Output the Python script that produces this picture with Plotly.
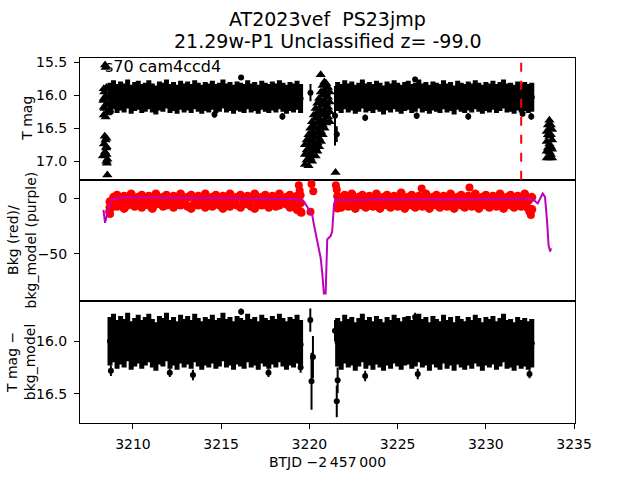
import plotly.graph_objects as go
from plotly.subplots import make_subplots

# ---------------- data ----------------
t_seg1 = [3208.7, 3208.9, 3209.1, 3209.3, 3209.5, 3209.7, 3209.9, 3210.1, 3210.3, 3210.5,
          3210.7, 3210.9, 3211.1, 3211.3, 3211.5, 3211.7, 3211.9, 3212.1, 3212.3, 3212.5,
          3212.7, 3212.9, 3213.1, 3213.3, 3213.5, 3213.7, 3213.9, 3214.1, 3214.3, 3214.5,
          3214.7, 3214.9, 3215.1, 3215.3, 3215.5, 3215.7, 3215.9, 3216.1, 3216.3, 3216.5,
          3216.7, 3216.9, 3217.1, 3217.3, 3217.5, 3217.7, 3217.9, 3218.1, 3218.3, 3218.5,
          3218.7, 3218.9, 3219.1, 3219.3, 3219.5]
t_seg2 = [3221.6, 3221.8, 3222.0, 3222.2, 3222.4, 3222.6, 3222.8, 3223.0, 3223.2, 3223.4,
          3223.6, 3223.8, 3224.0, 3224.2, 3224.4, 3224.6, 3224.8, 3225.0, 3225.2, 3225.4,
          3225.6, 3225.8, 3226.0, 3226.2, 3226.4, 3226.6, 3226.8, 3227.0, 3227.2, 3227.4,
          3227.6, 3227.8, 3228.0, 3228.2, 3228.4, 3228.6, 3228.8, 3229.0, 3229.2, 3229.4,
          3229.6, 3229.8, 3230.0, 3230.2, 3230.4, 3230.6, 3230.8, 3231.0, 3231.2, 3231.4,
          3231.6, 3231.8, 3232.0, 3232.2, 3232.4, 3232.6]

# T mag (top panel)
mag_seg1 = [16.03, 15.99, 16.05, 16.01, 16.04, 15.98, 16.06, 16.02, 16.00, 16.05,
            16.03, 15.99, 16.04, 16.07, 16.01, 16.03, 15.98, 16.05, 16.02, 16.06,
            16.00, 16.04, 16.01, 16.05, 15.99, 16.03, 16.06, 16.02, 16.04, 16.00,
            16.05, 16.03, 15.98, 16.04, 16.02, 16.06, 16.01, 16.03, 16.05, 15.99,
            16.04, 16.02, 16.06, 16.00, 16.03, 16.05, 16.01, 16.04, 15.99, 16.03,
            16.06, 16.02, 16.04, 16.00, 16.05]
mag_seg2 = [16.02, 16.05, 15.99, 16.04, 16.01, 16.06, 16.03, 15.98, 16.04, 16.02,
            16.05, 16.00, 16.03, 16.07, 16.01, 16.04, 15.99, 16.03, 16.06, 16.02,
            16.00, 16.05, 16.03, 15.98, 16.04, 16.02, 16.06, 16.01, 16.03, 16.05,
            15.99, 16.04, 16.02, 16.07, 16.00, 16.03, 16.05, 16.01, 16.04, 15.99,
            16.03, 16.06, 16.02, 16.04, 16.00, 16.05, 16.02, 15.98, 16.04, 16.03,
            16.06, 16.01, 16.04, 16.02, 16.05, 16.03]
mag_err = 0.22
mag_out_t = [3216.13, 3220.06, 3221.45, 3221.55, 3223.16, 3225.99, 3226.08, 3229.00,
             3232.08, 3232.57, 3214.62, 3218.47, 3208.75]
mag_out_v = [15.73, 15.96, 16.31, 16.59, 16.34, 15.76, 16.31, 16.32,
             16.28, 16.32, 16.29, 16.32, 16.25]
mag_out_e = [0.03, 0.13, 0.45, 0.12, 0.05, 0.04, 0.05, 0.05,
             0.04, 0.05, 0.05, 0.05, 0.05]

# upper limits (triangles)
ul_t = [3208.42, 3208.45, 3208.50, 3208.38, 3208.45, 3208.33, 3208.48, 3208.40, 3208.50, 3208.45,
        3208.40, 3208.45, 3208.36, 3208.48, 3208.42, 3208.30, 3208.55, 3208.52, 3208.55,
        3208.35, 3208.35, 3208.35, 3208.35, 3208.50, 3208.50, 3208.50, 3208.50,
        3219.75, 3219.75, 3219.75, 3219.95, 3219.95, 3219.95, 3219.95,
        3220.15, 3220.15, 3220.15, 3220.15, 3220.15,
        3220.35, 3220.35, 3220.35, 3220.35, 3220.35, 3220.35,
        3220.55, 3220.55, 3220.55, 3220.55, 3220.55, 3220.55,
        3220.75, 3220.75, 3220.75, 3220.75, 3220.75, 3220.75,
        3220.95, 3220.95, 3220.95, 3220.95, 3220.95,
        3221.15, 3221.15, 3221.15, 3221.15, 3220.64, 3221.48,
        3219.85, 3219.85, 3219.85, 3220.05, 3220.05, 3220.05, 3220.05,
        3220.25, 3220.25, 3220.25, 3220.25, 3220.25,
        3220.45, 3220.45, 3220.45, 3220.45, 3220.45, 3220.45,
        3220.65, 3220.65, 3220.65, 3220.65, 3220.65, 3220.65,
        3220.85, 3220.85, 3220.85, 3220.85, 3220.85, 3220.85,
        3221.05, 3221.05, 3221.05, 3221.05,
        3233.60, 3233.60, 3233.60, 3233.60, 3233.60, 3233.60,
        3233.45, 3233.45, 3233.45, 3233.45, 3233.75, 3233.75, 3233.75, 3233.75,
        3233.52, 3233.52, 3233.52, 3233.68, 3233.68, 3233.68, 3233.68]
ul_mag = [15.54, 15.58, 15.88, 15.95, 16.02, 16.08, 16.14, 16.20, 16.27, 16.33,
          16.62, 16.68, 16.74, 16.80, 16.86, 16.92, 16.97, 17.03, 17.21,
          15.90, 16.05, 16.18, 16.30, 16.65, 16.78, 16.90, 17.00,
          16.75, 16.90, 17.05, 16.60, 16.75, 16.90, 17.07,
          16.40, 16.55, 16.70, 16.85, 17.00,
          16.20, 16.35, 16.50, 16.65, 16.80, 16.92,
          16.05, 16.20, 16.35, 16.50, 16.65, 16.78,
          15.85, 16.00, 16.15, 16.30, 16.45, 16.60,
          15.82, 15.97, 16.12, 16.27, 16.42,
          15.95, 16.10, 16.25, 16.40, 15.69, 17.17,
          16.68, 16.83, 16.98, 16.50, 16.65, 16.80, 16.95,
          16.30, 16.45, 16.60, 16.75, 16.90,
          16.12, 16.27, 16.42, 16.57, 16.72, 16.85,
          15.95, 16.10, 16.25, 16.40, 16.55, 16.70,
          15.80, 15.92, 16.07, 16.22, 16.37, 16.50,
          15.88, 16.03, 16.18, 16.33,
          16.38, 16.50, 16.62, 16.74, 16.86, 16.95,
          16.55, 16.70, 16.85, 16.95, 16.52, 16.68, 16.82, 16.95,
          16.45, 16.60, 16.80, 16.45, 16.60, 16.78, 16.90]

disc_t = 3232.0

# background (middle panel): two samples per timestamp
bkgA_seg1 = [-3, 1, 3, -1, 2, 0, 4, -2, 1, 3,
             -1, 2, 0, 4, -2, 1, 3, -1, 2, 0,
             4, -2, 1, 3, -1, 2, 0, 4, -2, 1,
             3, -1, 2, 0, 4, -2, 1, 3, -1, 2,
             0, 4, -2, 1, 3, -1, 2, 0, 4, -2,
             1, 3, -1, 2, -4]
bkgB_seg1 = [-8, -5, -7, -4, -9, -6, -3, -7, -5, -8,
             -4, -6, -9, -5, -3, -7, -6, -4, -8, -5,
             -6, -3, -7, -9, -4, -6, -5, -8, -3, -7,
             -4, -6, -9, -5, -7, -3, -6, -8, -4, -5,
             -7, -9, -3, -6, -5, -8, -4, -7, -6, -3,
             -5, -8, -7, -10, -12]
bkgA_seg2 = [2, -1, 3, 0, 4, -2, 1, 3, -1, 2,
             0, 4, -2, 1, 3, -1, 2, 0, 5, -2,
             1, 3, -1, 2, 0, 4, -2, 1, 3, -1,
             2, 0, 4, -2, 1, 3, -1, 2, 0, 4,
             -2, 1, 3, -1, 2, 0, 4, -2, 1, 3,
             -1, 2, 0, 4, -2, 1]
bkgB_seg2 = [-6, -8, -4, -7, -5, -9, -3, -6, -8, -4,
             -7, -5, -9, -3, -6, -8, -4, -7, -5, -9,
             -3, -6, -8, -4, -7, -5, -9, -3, -6, -8,
             -4, -7, -5, -9, -3, -6, -8, -4, -7, -5,
             -9, -3, -6, -8, -4, -7, -5, -9, -3, -6,
             -8, -4, -7, -5, -9, -10]
bkg_out_t = [3208.65, 3208.70, 3208.75, 3219.40, 3219.45, 3219.50, 3219.55, 3220.12, 3220.22,
             3220.06, 3221.50, 3221.55, 3221.60, 3226.36, 3229.07, 3232.47, 3232.55]
bkg_out_v = [-12, -14, -9, 12, 7, 3, -13, 13, 6.5, -12, 12, 8, -9, 9, 10, -12, -15]

bm_t = [3208.33, 3208.42, 3208.61, 3208.80, 3208.95, 3209.5, 3210.5, 3211.5, 3212.5, 3213.5,
        3214.5, 3215.5, 3216.5, 3217.5, 3218.5, 3218.85, 3219.41, 3219.70, 3219.98, 3220.16,
        3220.26, 3220.45, 3220.54, 3220.64, 3220.73, 3220.82, 3220.92, 3221.01, 3221.20, 3221.29,
        3221.39, 3221.48, 3222.0, 3223.0, 3224.0, 3225.0, 3226.0, 3227.0, 3228.0, 3229.0,
        3230.0, 3231.0, 3231.81, 3232.66, 3232.94, 3233.22, 3233.35, 3233.47, 3233.55, 3233.64,
        3233.69]
bm_v = [-10.4, -22, -9, -1.5, 0, 0.8, 1.0, 0.6, 0.9, 0.3,
        0.5, 0.2, 0.4, 0.0, -0.3, -0.6, -0.6, -3, -10.4, -15,
        -24, -39, -45, -54, -68, -86, -86, -37, -34, -30,
        -6, -0.6, -1.5, -1.0, -0.5, -1.2, -0.8, -1.0, -0.6, -0.9,
        -0.5, -0.8, 0, -0.6, -4.5, 4.5, 1.5, -21, -42, -48,
        -45]

# T mag - bkg_model (bottom panel)
cor_seg1 = [16.00, 15.97, 16.03, 15.99, 16.02, 15.96, 16.04, 16.01, 15.98, 16.03,
            16.00, 15.97, 16.02, 16.05, 15.99, 16.01, 15.96, 16.03, 16.00, 16.04,
            15.98, 16.02, 15.99, 16.03, 15.97, 16.01, 16.04, 16.00, 16.02, 15.98,
            16.03, 16.01, 15.96, 16.02, 16.00, 16.04, 15.99, 16.01, 16.03, 15.97,
            16.02, 16.00, 16.04, 15.98, 16.01, 16.03, 15.99, 16.02, 15.97, 16.01,
            16.04, 16.00, 16.02, 15.98, 16.03]
cor_seg2 = [16.01, 16.04, 15.98, 16.02, 16.00, 16.05, 16.01, 15.97, 16.03, 16.00,
            16.04, 15.99, 16.02, 16.05, 16.00, 16.03, 15.98, 16.01, 16.04, 16.00,
            15.99, 16.03, 16.01, 15.97, 16.02, 16.00, 16.05, 15.99, 16.02, 16.04,
            15.98, 16.03, 16.00, 16.05, 15.99, 16.02, 16.04, 16.00, 16.03, 15.98,
            16.01, 16.05, 16.00, 16.02, 15.99, 16.04, 16.01, 15.97, 16.03, 16.02,
            16.05, 16.00, 16.03, 16.01, 16.04, 16.02]
cor_err = 0.23
cor_out_t = [3216.13, 3220.05, 3220.12, 3220.20, 3221.45, 3221.55, 3221.60, 3212.09,
             3213.40, 3217.68, 3223.16, 3226.14, 3232.47, 3225.99, 3208.75, 3219.50]
cor_out_v = [15.72, 15.80, 16.38, 16.15, 15.90, 16.57, 16.37, 16.30,
             16.32, 16.30, 16.33, 16.31, 16.31, 15.77, 16.28, 16.25]
cor_out_e = [0.03, 0.11, 0.27, 0.20, 0.10, 0.15, 0.12, 0.04,
             0.05, 0.04, 0.05, 0.05, 0.04, 0.04, 0.05, 0.05]

title_line1 = "AT2023vef\u00a0 PS23jmp"
title_line2 = "21.29w-P1 Unclassified z= -99.0"
sector_label = "s70 cam4ccd4"

# ---------------- figure ----------------
FONT = "DejaVu Sans"
BLACK = "black"
RED = "#ff0000"
MAG = "#bf00bf"

fig = make_subplots(rows=3, cols=1, shared_xaxes=True, vertical_spacing=0)

t_all = t_seg1 + t_seg2

# top panel
fig.add_trace(go.Scatter(x=t_all, y=mag_seg1 + mag_seg2, mode="markers",
                         marker=dict(color=BLACK, size=6),
                         error_y=dict(type="constant", value=mag_err, color=BLACK,
                                      thickness=5, width=0)), row=1, col=1)
fig.add_trace(go.Scatter(x=mag_out_t, y=mag_out_v, mode="markers",
                         marker=dict(color=BLACK, size=6),
                         error_y=dict(type="data", array=mag_out_e, color=BLACK,
                                      thickness=2, width=0)), row=1, col=1)
fig.add_trace(go.Scatter(x=ul_t, y=ul_mag, mode="markers",
                         marker=dict(color=BLACK, size=9, symbol="triangle-up")),
              row=1, col=1)
fig.add_vline(x=disc_t, line=dict(color=RED, width=2, dash="dash"), row=1, col=1)

# middle panel
fig.add_trace(go.Scatter(x=t_all + t_all, y=bkgA_seg1 + bkgA_seg2 + bkgB_seg1 + bkgB_seg2,
                         mode="markers", marker=dict(color=RED, size=9)), row=2, col=1)
fig.add_trace(go.Scatter(x=bkg_out_t, y=bkg_out_v, mode="markers",
                         marker=dict(color=RED, size=8)), row=2, col=1)
fig.add_trace(go.Scatter(x=bm_t, y=bm_v, mode="lines",
                         line=dict(color=MAG, width=2)), row=2, col=1)

# bottom panel
fig.add_trace(go.Scatter(x=t_all, y=cor_seg1 + cor_seg2, mode="markers",
                         marker=dict(color=BLACK, size=6),
                         error_y=dict(type="constant", value=cor_err, color=BLACK,
                                      thickness=5, width=0)), row=3, col=1)
fig.add_trace(go.Scatter(x=cor_out_t, y=cor_out_v, mode="markers",
                         marker=dict(color=BLACK, size=6),
                         error_y=dict(type="data", array=cor_out_e, color=BLACK,
                                      thickness=2, width=0)), row=3, col=1)

axis_common = dict(showline=True, linecolor=BLACK, linewidth=1, mirror=True,
                   ticks="outside", ticklen=5, tickwidth=1, tickcolor=BLACK,
                   showgrid=False, zeroline=False,
                   tickfont=dict(family=FONT, size=14, color=BLACK))

for r in (1, 2, 3):
    fig.update_xaxes(range=[3207.0, 3235.05], tick0=3210, dtick=5, row=r, col=1, **axis_common)
fig.update_xaxes(showticklabels=False, ticks="", row=1, col=1)
fig.update_xaxes(showticklabels=False, ticks="", row=2, col=1)
fig.update_xaxes(row=3, col=1, ticklabelstandoff=3,
                 title=dict(text="BTJD \u22122\u2009457\u2009000",
                            font=dict(family=FONT, size=14, color=BLACK), standoff=6))

fig.update_yaxes(range=[17.28, 15.434], tick0=15.5, dtick=0.5, tickformat=".1f",
                 ticklabelstandoff=4, row=1, col=1, **axis_common)
fig.update_yaxes(range=[-93, 17], tick0=0, dtick=50, ticklabelstandoff=4,
                 row=2, col=1, **axis_common)
fig.update_yaxes(range=[16.775, 15.622], tick0=16.0, dtick=0.5, tickformat=".1f",
                 ticklabelstandoff=4, row=3, col=1, **axis_common)

PW = 640 - 80 - 65
def px_to_paper_x(px):
    return (px - 80) / PW

ylabels = [("T mag", 27, 5 / 6), ("Bkg (red)/<br>bkg_model (purple)", 21, 0.5),
           ("T mag \u2212<br>bkg_model", 21, 1 / 6)]
for txt, xpx, ypos in ylabels:
    fig.add_annotation(text=txt, xref="paper", yref="paper", x=px_to_paper_x(xpx), y=ypos,
                       xanchor="center", yanchor="middle", textangle=-90, showarrow=False,
                       font=dict(family=FONT, size=14, color=BLACK))

fig.add_annotation(text=sector_label, xref="paper", yref="paper", x=px_to_paper_x(103), y=1,
                   xanchor="left", yanchor="top", yshift=3, showarrow=False,
                   font=dict(family=FONT, size=16, color=BLACK))

# title as two centred lines above the top panel
for txt, shift in ((title_line1, 26), (title_line2, 4)):
    fig.add_annotation(text=txt, xref="paper", yref="paper", x=0.5, y=1,
                       xanchor="center", yanchor="bottom", yshift=shift, showarrow=False,
                       font=dict(family=FONT, size=19, color=BLACK))

fig.update_layout(
    width=640, height=480,
    margin=dict(l=80, r=65, t=58, b=53),
    paper_bgcolor="white", plot_bgcolor="white",
    showlegend=False,
)

fig.write_html("out.html", config={"displayModeBar": False},
               post_script="document.body.style.margin='0';")
